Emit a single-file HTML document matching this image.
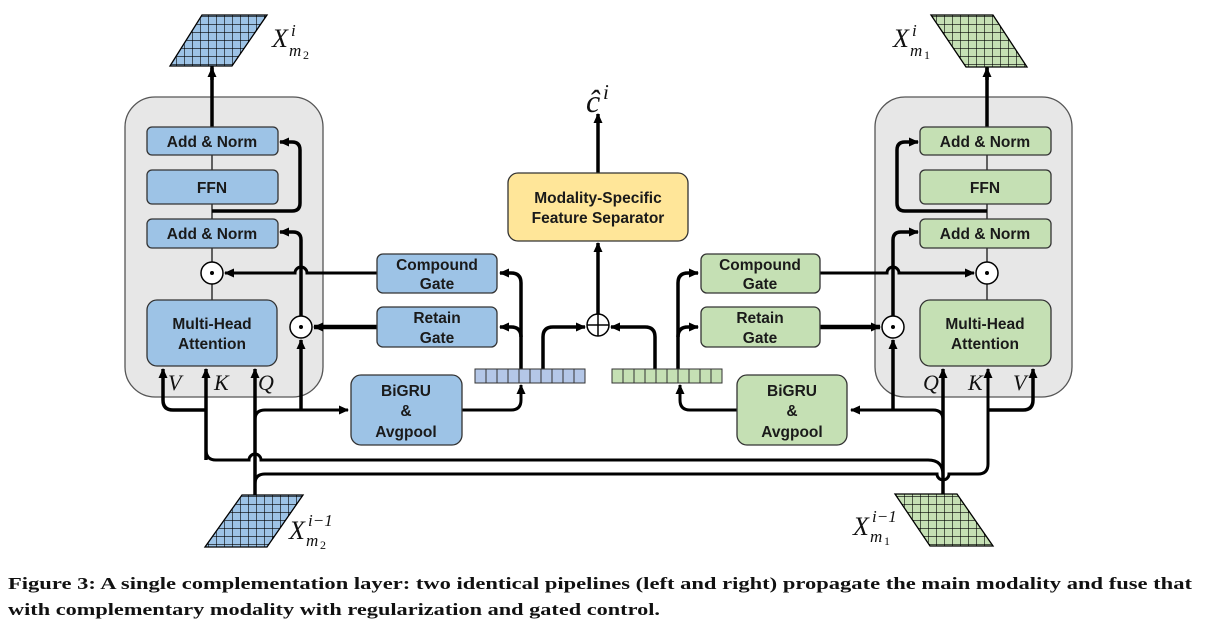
<!DOCTYPE html>
<html><head><meta charset="utf-8"><style>
html,body{margin:0;padding:0;background:#fff;width:1205px;height:635px;overflow:hidden}
svg{display:block}
.bx{font-family:"Liberation Sans","Noto Sans CJK SC",sans-serif;font-size:15.5px;font-weight:bold;fill:#1a1a1a;text-anchor:middle}
.m{font-family:"Liberation Serif",serif;font-style:italic;fill:#111}
.cap{font-family:"Liberation Serif",serif;font-weight:bold;font-size:17px;fill:#111}
</style></head><body>
<svg width="1205" height="635" viewBox="0 0 1205 635" xmlns="http://www.w3.org/2000/svg">
<defs>
<marker id="a" markerUnits="userSpaceOnUse" markerWidth="12" markerHeight="12" refX="9" refY="6" orient="auto"><path d="M0,1.5 L10,6 L0,10.5 Z" fill="#000"/></marker>
<pattern id="gb" width="8" height="8" patternUnits="userSpaceOnUse"><rect width="8" height="8" fill="#9dc3e6"/><path d="M0,0H8M0,0V8" stroke="#000" stroke-width="1.2"/></pattern>
<pattern id="gg" width="8" height="8" patternUnits="userSpaceOnUse"><rect width="8" height="8" fill="#c5e0b4"/><path d="M0,0H8M0,0V8" stroke="#000" stroke-width="1.2"/></pattern>
</defs>

<rect x="125" y="97" width="198" height="300" rx="30" fill="#e7e7e7" stroke="#555" stroke-width="1.3"/>
<rect x="875" y="97" width="197" height="300" rx="30" fill="#e7e7e7" stroke="#555" stroke-width="1.3"/>

<g stroke="#333" stroke-width="1.5">
<path d="M212,155V170M212,204V219M212,248V262M212,284V300"/>
<path d="M987,155V170M987,204V219M987,248V262M987,284V300"/>
</g>

<g fill="none" stroke="#000" stroke-width="3.5">
<path d="M212,127V68" marker-end="url(#a)"/>
<path d="M987,127V68" marker-end="url(#a)"/>
<path d="M598,173V114" marker-end="url(#a)"/>
<path d="M598,314V243" marker-end="url(#a)"/>
<path d="M212,211H292Q300,211 300,203V150Q300,142 292,142H280" marker-end="url(#a)"/>
<path d="M301,410V340" marker-end="url(#a)"/>
<path d="M301,316V240Q301,232 293,232H280" marker-end="url(#a)"/>
<path d="M377,327H314" marker-end="url(#a)" stroke-width="4.5"/>
<path d="M255,497V369" marker-end="url(#a)"/>
<path d="M255,420Q255,410 265,410H348" marker-end="url(#a)" stroke-width="3"/>
<path d="M206,410H173Q163,410 163,400V369" marker-end="url(#a)"/>
<path d="M206,460V369" marker-end="url(#a)"/>
<path d="M206,450Q206,460 216,460H249A6,6 0 0 1 261,460H928Q943,460 943,475" stroke-width="3"/>
<path d="M255,484Q255,474 265,474H937A6,6 0 0 0 949,474H978Q988,474 988,464V369" marker-end="url(#a)" stroke-width="3"/>
<path d="M943,494V369" marker-end="url(#a)"/>
<path d="M988,410H1023Q1033,410 1033,400V369" marker-end="url(#a)"/>
<path d="M943,420Q943,410 933,410H851" marker-end="url(#a)" stroke-width="3"/>
<path d="M893,410V340" marker-end="url(#a)"/>
<path d="M893,316V240Q893,232 901,232H918" marker-end="url(#a)"/>
<path d="M987,211H905Q897,211 897,203V150Q897,142 905,142H918" marker-end="url(#a)"/>
<path d="M820,327H880" marker-end="url(#a)" stroke-width="4.5"/>
<path d="M377,273H307A6,6 0 0 0 295,273H225" marker-end="url(#a)" stroke-width="3"/>
<path d="M820,273H887A6,6 0 0 1 899,273H974" marker-end="url(#a)" stroke-width="3"/>
<path d="M462,410H511Q521,410 521,400V385" marker-end="url(#a)" stroke-width="3"/>
<path d="M521,369V283Q521,273 511,273H500" marker-end="url(#a)"/>
<path d="M521,337Q521,327 511,327H500" marker-end="url(#a)"/>
<path d="M543,369V337Q543,327 553,327H585" marker-end="url(#a)"/>
<path d="M737,410H690Q680,410 680,400V385" marker-end="url(#a)" stroke-width="3"/>
<path d="M678,369V283Q678,273 688,273H698" marker-end="url(#a)"/>
<path d="M678,337Q678,327 688,327H698" marker-end="url(#a)"/>
<path d="M655,369V337Q655,327 645,327H611" marker-end="url(#a)"/>
</g>

<g stroke="#333" stroke-width="1.3" fill="#9dc3e6">
<rect x="147" y="127" width="131" height="28" rx="5"/>
<rect x="147" y="170" width="131" height="34" rx="5"/>
<rect x="147" y="219" width="131" height="29" rx="5"/>
<rect x="147" y="300" width="130" height="66" rx="10"/>
<rect x="377" y="254" width="120" height="39" rx="6"/>
<rect x="377" y="307" width="120" height="40" rx="6"/>
<rect x="351" y="375" width="111" height="70" rx="10"/>
</g>
<g stroke="#333" stroke-width="1.3" fill="#c5e0b4">
<rect x="920" y="127" width="131" height="28" rx="5"/>
<rect x="920" y="170" width="131" height="34" rx="5"/>
<rect x="920" y="219" width="131" height="29" rx="5"/>
<rect x="920" y="300" width="131" height="66" rx="10"/>
<rect x="701" y="254" width="119" height="39" rx="6"/>
<rect x="701" y="307" width="119" height="40" rx="6"/>
<rect x="737" y="375" width="110" height="70" rx="10"/>
</g>
<rect x="508" y="173" width="180" height="68" rx="10" fill="#ffe699" stroke="#333" stroke-width="1.3"/>

<g stroke="#333" stroke-width="1">
<rect x="475" y="369" width="110" height="14" fill="#b4c7e7"/>
<path d="M486,369v14M497,369v14M508,369v14M519,369v14M530,369v14M541,369v14M552,369v14M563,369v14M574,369v14"/>
<rect x="612" y="369" width="110" height="14" fill="#c5e0b4"/>
<path d="M623,369v14M634,369v14M645,369v14M656,369v14M667,369v14M678,369v14M689,369v14M700,369v14M711,369v14"/>
</g>

<g fill="#fff" stroke="#000" stroke-width="1.5">
<circle cx="212" cy="273" r="11"/><circle cx="301" cy="327" r="11"/>
<circle cx="987" cy="273" r="11"/><circle cx="893" cy="327" r="11"/>
<circle cx="598" cy="325" r="11"/>
</g>
<g fill="#000"><circle cx="212" cy="273" r="2"/><circle cx="301" cy="327" r="2"/><circle cx="987" cy="273" r="2"/><circle cx="893" cy="327" r="2"/></g>
<path d="M587,325H609M598,314V336" stroke="#000" stroke-width="1.5"/>

<g stroke="#000" stroke-width="1.3">
<polygon points="202,15 267,15 232,66 170,66" fill="url(#gb)"/>
<polygon points="242,495 303,495 267,547 205,547" fill="url(#gb)"/>
<polygon points="931,15 993,15 1027,67 966,67" fill="url(#gg)"/>
<polygon points="895,494 957,494 993,546 930,546" fill="url(#gg)"/>
</g>
<path d="M212,80V66M987,80V67" stroke="#000" stroke-width="3.5"/>

<g class="bx">
<text x="212" y="147">Add &amp; Norm</text>
<text x="212" y="193">FFN</text>
<text x="212" y="239">Add &amp; Norm</text>
<text x="212" y="329">Multi-Head</text>
<text x="212" y="349">Attention</text>
<text x="437" y="270">Compound</text>
<text x="437" y="289">Gate</text>
<text x="437" y="323">Retain</text>
<text x="437" y="343">Gate</text>
<text x="406" y="396">BiGRU</text>
<text x="406" y="416">&amp;</text>
<text x="406" y="437">Avgpool</text>
<text x="985" y="147">Add &amp; Norm</text>
<text x="985" y="193">FFN</text>
<text x="985" y="239">Add &amp; Norm</text>
<text x="985" y="329">Multi-Head</text>
<text x="985" y="349">Attention</text>
<text x="760" y="270">Compound</text>
<text x="760" y="289">Gate</text>
<text x="760" y="323">Retain</text>
<text x="760" y="343">Gate</text>
<text x="792" y="396">BiGRU</text>
<text x="792" y="416">&amp;</text>
<text x="792" y="437">Avgpool</text>
<text x="598" y="203">Modality-Specific</text>
<text x="598" y="223">Feature Separator</text>
</g>

<g class="m" font-size="22">
<text x="168" y="390">V</text><text x="214" y="390">K</text><text x="258" y="390">Q</text>
<text x="923" y="390">Q</text><text x="968" y="390">K</text><text x="1013" y="390">V</text>
</g>
<g class="m">
<text x="272" y="47" font-size="26">X</text><text x="291" y="36" font-size="17">i</text><text x="289" y="56" font-size="17">m</text><text x="303" y="59" font-size="12" font-style="normal">2</text>
<text x="893" y="47" font-size="26">X</text><text x="912" y="36" font-size="17">i</text><text x="910" y="56" font-size="17">m</text><text x="924" y="59" font-size="12" font-style="normal">1</text>
<text x="289" y="539" font-size="26">X</text><text x="308" y="526" font-size="17">i−1</text><text x="306" y="546" font-size="17">m</text><text x="320" y="549" font-size="12" font-style="normal">2</text>
<text x="853" y="535" font-size="26">X</text><text x="872" y="522" font-size="17">i−1</text><text x="870" y="542" font-size="17">m</text><text x="884" y="545" font-size="12" font-style="normal">1</text>
<text x="586" y="112" font-size="32">ĉ</text><text x="603" y="99" font-size="21">i</text>
</g>

<text class="cap" x="8" y="589" textLength="1184" lengthAdjust="spacingAndGlyphs">Figure 3: A single complementation layer: two identical pipelines (left and right) propagate the main modality and fuse that</text>
<text class="cap" x="8" y="615" textLength="652" lengthAdjust="spacingAndGlyphs">with complementary modality with regularization and gated control.</text>
</svg>
</body></html>
